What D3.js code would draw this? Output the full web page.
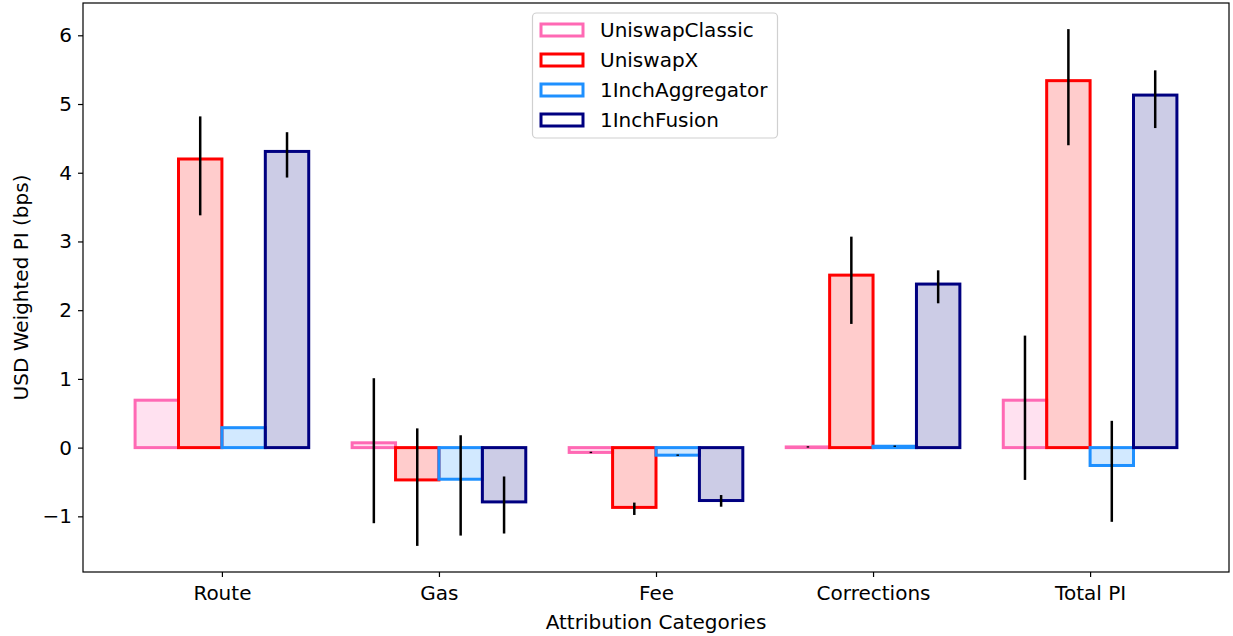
<!DOCTYPE html>
<html><head><meta charset="utf-8">
<script src="https://cdn.jsdelivr.net/npm/d3@7"></script>
<style>body{margin:0;background:#fff}svg{display:block}text{font-family:"DejaVu Sans",sans-serif;fill:#000}</style>
</head><body><svg id="c" width="1233" height="636"></svg>
<script>
const categories = ["Route", "Gas", "Fee", "Corrections", "Total PI"];
const seriesNames = ["UniswapClassic", "UniswapX", "1InchAggregator", "1InchFusion"];
const uniswapClassic = [0.69, 0.07, -0.07, 0.01, 0.69];
const uniswapX = [4.20, -0.47, -0.87, 2.51, 5.34];
const inchAggregator = [0.29, -0.46, -0.11, 0.02, -0.26];
const inchFusion = [4.31, -0.79, -0.77, 2.38, 5.13];
// error bar bounds [low, high]
const uniswapClassicErr = [[0.69,0.69],[-1.10,1.01],[-0.08,-0.06],[0.00,0.02],[-0.47,1.63]];
const uniswapXErr = [[3.38,4.82],[-1.43,0.28],[-0.98,-0.80],[1.80,3.07],[4.40,6.09]];
const inchAggregatorErr = [[0.29,0.29],[-1.28,0.18],[-0.12,-0.10],[0.01,0.03],[-1.08,0.39]];
const inchFusionErr = [[3.93,4.59],[-1.25,-0.42],[-0.86,-0.69],[2.10,2.58],[4.65,5.49]];
const yTicks = [-1, 0, 1, 2, 3, 4, 5, 6];

const seriesVals = [uniswapClassic, uniswapX, inchAggregator, inchFusion];
const seriesErr = [uniswapClassicErr, uniswapXErr, inchAggregatorErr, inchFusionErr];
const edgeCols = ["#ff69b4", "#ff0000", "#1e90ff", "#000080"];
const fillCols = ["rgba(255,105,180,0.2)", "rgba(255,0,0,0.2)", "rgba(30,144,255,0.2)", "rgba(0,0,128,0.2)"];

const L = 83, R = 1229, T = 3, B = 572;
const FS = "20px";
const svg = d3.select("#c");
const x = d3.scaleLinear().domain([-0.64, 4.64]).range([L, R]);
const y = d3.scaleLinear().domain([-1.81, 6.47]).range([B, T]);
const bw = 0.2;
const offs = [-0.3, -0.1, 0.1, 0.3];

seriesVals.forEach((vals, s) => {
  const g = svg.append("g");
  g.selectAll("rect").data(vals).join("rect")
    .attr("x", (d, i) => x(i + offs[s] - bw / 2))
    .attr("width", x(bw) - x(0))
    .attr("y", d => y(Math.max(0, d)))
    .attr("height", d => Math.abs(y(d) - y(0)))
    .attr("fill", fillCols[s]).attr("stroke", edgeCols[s]).attr("stroke-width", 3);
  g.selectAll("line").data(seriesErr[s]).join("line")
    .attr("x1", (d, i) => x(i + offs[s])).attr("x2", (d, i) => x(i + offs[s]))
    .attr("y1", d => y(d[0])).attr("y2", d => y(d[1]))
    .attr("stroke", "#000").attr("stroke-width", 2.5);
});

// frame
svg.append("rect").attr("x", L).attr("y", T).attr("width", R - L).attr("height", B - T)
  .attr("fill", "none").attr("stroke", "#000").attr("stroke-width", 1.2);

const yAxis = d3.axisLeft(y).tickValues(yTicks).tickSize(5).tickPadding(6).tickFormat(d3.format("d"));
const ya = svg.append("g").attr("transform", `translate(${L},0)`).call(yAxis);
ya.select(".domain").remove();
ya.selectAll("text").style("font-size", FS).style("font-family", "DejaVu Sans");
ya.selectAll("line").attr("stroke-width", 1.2);

const xAxis = d3.axisBottom(x).tickValues(categories.map((c, i) => i)).tickSize(5).tickPadding(9)
  .tickFormat(i => categories[i]);
const xa = svg.append("g").attr("transform", `translate(0,${B})`).call(xAxis);
xa.select(".domain").remove();
xa.selectAll("text").style("font-size", FS).style("font-family", "DejaVu Sans");
xa.selectAll("line").attr("stroke-width", 1.2);

svg.append("text").attr("x", (L + R) / 2).attr("y", 629).attr("text-anchor", "middle")
  .style("font-size", FS).text("Attribution Categories");
svg.append("text").attr("transform", `translate(28,${(T + B) / 2}) rotate(-90)`).attr("text-anchor", "middle")
  .style("font-size", FS).text("USD Weighted PI (bps)");

// legend
const lg = svg.append("g");
lg.append("rect").attr("x", 532.5).attr("y", 13).attr("width", 245).attr("height", 125).attr("rx", 4)
  .attr("fill", "rgba(255,255,255,0.8)").attr("stroke", "#d0d0d0").attr("stroke-width", 1.2);
seriesNames.forEach((n, s) => {
  const cy = 30 + s * 30;
  lg.append("rect").attr("x", 541).attr("y", cy - 6).attr("width", 42).attr("height", 12)
    .attr("fill", "#fff").attr("stroke", edgeCols[s]).attr("stroke-width", 3);
  lg.append("text").attr("x", 600).attr("y", cy + 7).style("font-size", FS).text(n);
});
</script></body></html>
